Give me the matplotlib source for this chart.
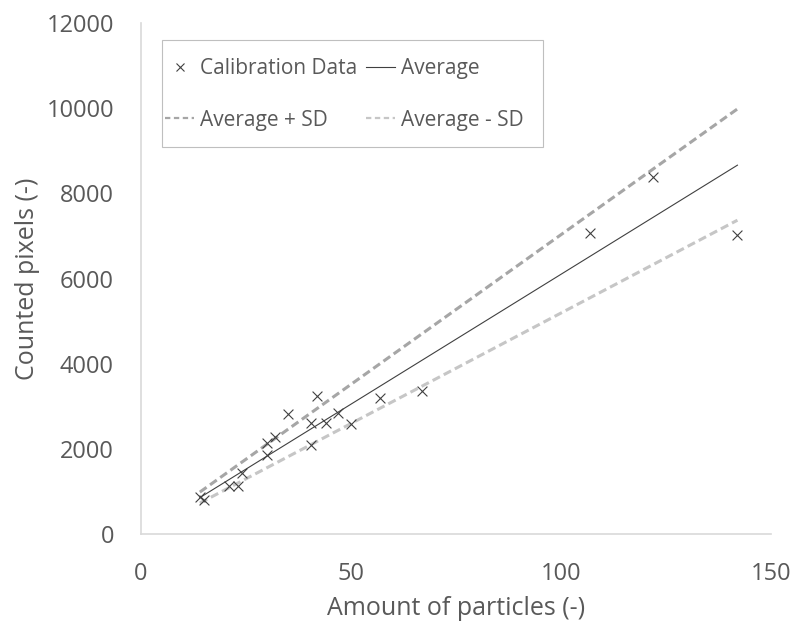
import numpy as np
import matplotlib
matplotlib.use("Agg")
import matplotlib.pyplot as plt
from matplotlib.lines import Line2D
from matplotlib.patches import Rectangle

particles = [14, 15, 21, 23, 24, 30, 30, 32, 35, 40.5, 40.5, 42, 44, 47, 50, 57, 67, 107, 122, 142]
pixels = [870, 800, 1130, 1130, 1430, 1860, 2140, 2280, 2820, 2610, 2090, 3240, 2610, 2840, 2580, 3190, 3360, 7070, 8380, 7020]

# fitted slopes (pixels per particle)
avg_slope = 61.0
upper_slope = 70.3
lower_slope = 51.9
line_x = np.array([14, 142])

plt.rcParams['font.family'] = ['Open Sans', 'DejaVu Sans']

fig = plt.figure(figsize=(7.99, 6.24), dpi=100)
ax = fig.add_axes([0.1765, 0.1442, 0.7885, 0.8189])

txt = '#595959'
up_col = '#a6a6a6'
lo_col = '#c6c6c6'
ax.scatter(particles, pixels, marker='x', s=50, color='#404040', linewidths=0.8, zorder=3)
ax.plot(line_x, avg_slope * line_x, color='#404040', lw=0.8)
ax.plot(line_x, upper_slope * line_x, color=up_col, lw=2.2, ls=(0, (2.7, 1.4)))
ax.plot(line_x, lower_slope * line_x, color=lo_col, lw=2.2, ls=(0, (2.7, 1.4)))

ax.set_xlim(0, 150)
ax.set_ylim(0, 12000)
ax.set_xticks([0, 50, 100, 150])
ax.set_yticks(np.arange(0, 12001, 2000))
ax.tick_params(length=0, labelsize=17, colors=txt)
ax.tick_params(axis='x', pad=20)
ax.tick_params(axis='y', pad=19.5)
for s in ['top', 'right']:
    ax.spines[s].set_visible(False)
for s in ['left', 'bottom']:
    ax.spines[s].set_color('#d9d9d9')
    ax.spines[s].set_linewidth(1.2)

ax.set_xlabel('Amount of particles (-)', fontsize=18, color=txt)
ax.set_ylabel('Counted pixels (-)', fontsize=18, color=txt)
ax.xaxis.set_label_coords(0.5, -0.122)
ax.yaxis.set_label_coords(-0.16, 0.5)

# legend proxies (legend dashes are thinner than the plotted ones)
h_cal = Line2D([], [], ls='none', marker='x', ms=6, mew=0.8, color='#404040')
h_avg = Line2D([], [], color='#404040', lw=0.8)
h_up = Line2D([], [], color=up_col, lw=1.6, ls=(0, (2.4, 1.6)))
h_lo = Line2D([], [], color=lo_col, lw=1.6, ls=(0, (2.4, 1.6)))
leg = ax.legend([h_cal, h_up, h_avg, h_lo], ['Calibration Data', 'Average + SD', 'Average', 'Average - SD'],
                ncol=2, loc='upper left', bbox_to_anchor=(0.022, 0.951), fontsize=15,
                frameon=False, handlelength=1.4, handletextpad=0.25, columnspacing=0.45,
                labelspacing=1.45, borderpad=0)
for t in leg.get_texts():
    t.set_color(txt)
ax.add_patch(Rectangle((0.0333, 0.757), 0.6047, 0.21, transform=ax.transAxes,
                       fill=False, edgecolor='#bfbfbf', lw=0.8, clip_on=False))

fig.savefig('out.png', dpi=100)
